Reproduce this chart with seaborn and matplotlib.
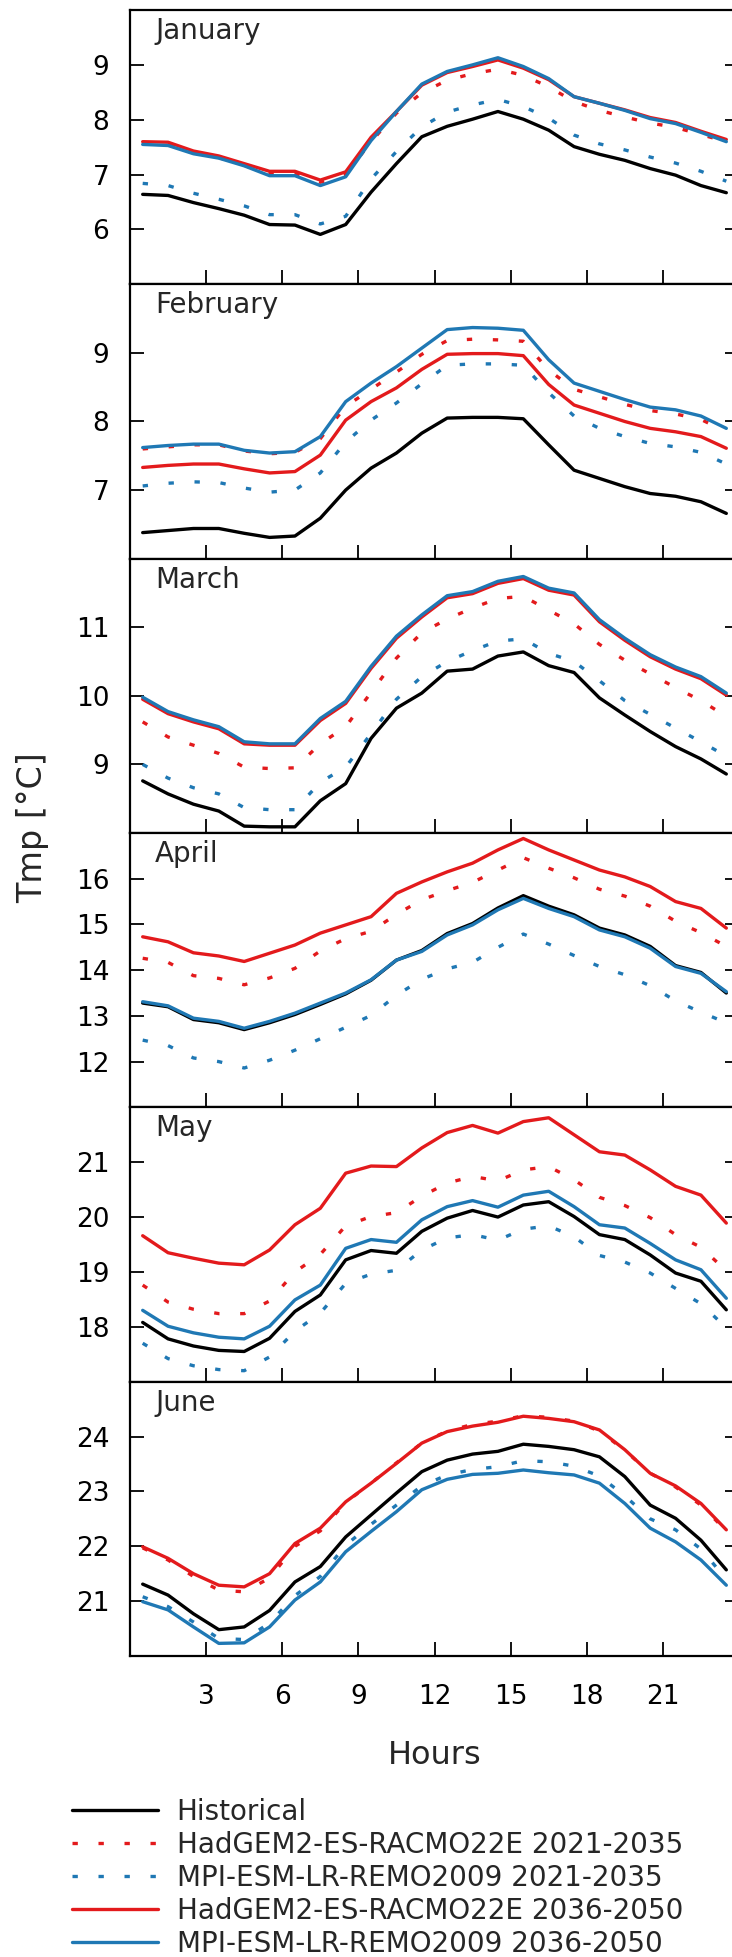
import matplotlib
matplotlib.use("Agg")
import matplotlib.pyplot as plt
import seaborn as sns
import pandas as pd
from matplotlib.lines import Line2D

hours = [0.5, 1.5, 2.5, 3.5, 4.5, 5.5, 6.5, 7.5, 8.5, 9.5, 10.5, 11.5,
         12.5, 13.5, 14.5, 15.5, 16.5, 17.5, 18.5, 19.5, 20.5, 21.5, 22.5, 23.5]
months = ["January", "February", "March", "April", "May", "June"]
xticks = [3, 6, 9, 12, 15, 18, 21]

series_labels = ["Historical", "HadGEM2-ES-RACMO22E 2021-2035", "MPI-ESM-LR-REMO2009 2021-2035",
                 "HadGEM2-ES-RACMO22E 2036-2050", "MPI-ESM-LR-REMO2009 2036-2050"]

jan_hist = [6.64, 6.62, 6.49, 6.38, 6.26, 6.09, 6.08, 5.91, 6.09, 6.68, 7.20, 7.69, 7.88, 8.01, 8.15, 8.01, 7.81, 7.51, 7.37, 7.26, 7.11, 6.99, 6.80, 6.67]
jan_had21 = [7.57, 7.55, 7.40, 7.31, 7.17, 7.02, 7.02, 6.86, 7.00, 7.60, 8.12, 8.49, 8.72, 8.84, 8.92, 8.81, 8.60, 8.33, 8.17, 8.05, 7.94, 7.86, 7.73, 7.60]
jan_mpi21 = [6.84, 6.80, 6.66, 6.55, 6.43, 6.27, 6.27, 6.10, 6.24, 6.92, 7.42, 7.87, 8.14, 8.27, 8.37, 8.24, 8.03, 7.72, 7.56, 7.45, 7.32, 7.21, 7.06, 6.88]
jan_had36 = [7.60, 7.59, 7.43, 7.34, 7.20, 7.06, 7.06, 6.90, 7.05, 7.68, 8.15, 8.63, 8.86, 8.97, 9.09, 8.94, 8.73, 8.42, 8.30, 8.18, 8.04, 7.95, 7.79, 7.64]
jan_mpi36 = [7.55, 7.53, 7.38, 7.30, 7.16, 6.98, 6.98, 6.80, 6.96, 7.62, 8.15, 8.65, 8.88, 9.00, 9.13, 8.97, 8.75, 8.42, 8.30, 8.17, 8.02, 7.93, 7.77, 7.60]

feb_hist = [6.38, 6.41, 6.44, 6.44, 6.37, 6.31, 6.33, 6.59, 7.00, 7.32, 7.54, 7.83, 8.05, 8.06, 8.06, 8.04, 7.66, 7.29, 7.17, 7.05, 6.95, 6.91, 6.83, 6.66]
feb_had21 = [7.60, 7.63, 7.66, 7.66, 7.57, 7.53, 7.55, 7.75, 8.22, 8.47, 8.72, 8.98, 9.18, 9.20, 9.19, 9.17, 8.75, 8.47, 8.36, 8.25, 8.16, 8.11, 8.03, 7.85]
feb_mpi21 = [7.06, 7.10, 7.12, 7.11, 7.03, 6.97, 7.00, 7.25, 7.70, 8.02, 8.27, 8.55, 8.82, 8.84, 8.84, 8.82, 8.42, 8.08, 7.90, 7.78, 7.68, 7.63, 7.55, 7.38]
feb_had36 = [7.33, 7.36, 7.38, 7.38, 7.31, 7.25, 7.27, 7.51, 8.02, 8.29, 8.49, 8.76, 8.98, 8.99, 8.99, 8.96, 8.54, 8.24, 8.12, 8.00, 7.90, 7.85, 7.78, 7.61]
feb_mpi36 = [7.62, 7.65, 7.67, 7.67, 7.58, 7.54, 7.56, 7.78, 8.29, 8.56, 8.80, 9.07, 9.34, 9.37, 9.36, 9.33, 8.90, 8.56, 8.44, 8.32, 8.21, 8.17, 8.08, 7.90]

mar_hist = [8.76, 8.57, 8.42, 8.32, 8.10, 8.09, 8.09, 8.47, 8.72, 9.38, 9.82, 10.04, 10.36, 10.39, 10.58, 10.64, 10.44, 10.34, 9.97, 9.72, 9.48, 9.26, 9.08, 8.86]
mar_had21 = [9.62, 9.40, 9.28, 9.16, 8.96, 8.94, 8.95, 9.30, 9.55, 10.05, 10.55, 10.92, 11.12, 11.28, 11.42, 11.45, 11.25, 11.05, 10.75, 10.52, 10.32, 10.12, 9.93, 9.70]
mar_mpi21 = [9.00, 8.80, 8.66, 8.57, 8.37, 8.34, 8.34, 8.74, 8.96, 9.45, 9.95, 10.28, 10.50, 10.66, 10.80, 10.83, 10.62, 10.50, 10.22, 9.93, 9.73, 9.53, 9.33, 9.12]
mar_had36 = [9.95, 9.74, 9.62, 9.52, 9.30, 9.28, 9.28, 9.64, 9.89, 10.40, 10.84, 11.15, 11.43, 11.49, 11.64, 11.71, 11.54, 11.47, 11.08, 10.81, 10.57, 10.39, 10.25, 10.01]
mar_mpi36 = [9.98, 9.77, 9.65, 9.55, 9.33, 9.30, 9.30, 9.67, 9.92, 10.43, 10.87, 11.18, 11.46, 11.52, 11.67, 11.74, 11.57, 11.50, 11.11, 10.84, 10.60, 10.42, 10.28, 10.04]

apr_hist = [13.28, 13.20, 12.92, 12.85, 12.70, 12.85, 13.03, 13.25, 13.48, 13.78, 14.22, 14.43, 14.80, 15.02, 15.36, 15.63, 15.40, 15.21, 14.92, 14.77, 14.52, 14.10, 13.95, 13.50]
apr_had21 = [14.26, 14.17, 13.88, 13.82, 13.68, 13.83, 14.04, 14.42, 14.69, 14.85, 15.22, 15.54, 15.74, 15.92, 16.19, 16.46, 16.23, 16.02, 15.77, 15.62, 15.40, 15.07, 14.82, 14.52]
apr_mpi21 = [12.47, 12.35, 12.08, 12.00, 11.86, 12.03, 12.25, 12.50, 12.75, 13.01, 13.45, 13.80, 14.03, 14.17, 14.50, 14.79, 14.57, 14.32, 14.08, 13.90, 13.66, 13.33, 13.08, 12.85]
apr_had36 = [14.73, 14.62, 14.38, 14.31, 14.19, 14.37, 14.55, 14.81, 14.99, 15.17, 15.68, 15.93, 16.15, 16.34, 16.63, 16.88, 16.63, 16.41, 16.19, 16.04, 15.83, 15.50, 15.35, 14.92]
apr_mpi36 = [13.31, 13.22, 12.95, 12.88, 12.73, 12.88, 13.06, 13.28, 13.50, 13.79, 14.22, 14.41, 14.77, 14.99, 15.32, 15.57, 15.35, 15.17, 14.88, 14.73, 14.48, 14.08, 13.93, 13.53]

may_hist = [18.08, 17.78, 17.65, 17.57, 17.55, 17.79, 18.28, 18.58, 19.22, 19.39, 19.34, 19.74, 19.98, 20.12, 20.00, 20.22, 20.28, 20.01, 19.68, 19.59, 19.31, 18.98, 18.83, 18.31]
may_had21 = [18.76, 18.45, 18.32, 18.24, 18.24, 18.47, 19.00, 19.32, 19.84, 20.01, 20.08, 20.38, 20.62, 20.74, 20.66, 20.86, 20.92, 20.68, 20.36, 20.21, 19.99, 19.68, 19.45, 19.02]
may_mpi21 = [17.70, 17.42, 17.29, 17.22, 17.20, 17.45, 17.92, 18.25, 18.79, 18.96, 19.03, 19.40, 19.62, 19.68, 19.58, 19.78, 19.84, 19.64, 19.30, 19.18, 18.98, 18.70, 18.42, 17.98]
may_had36 = [19.66, 19.35, 19.25, 19.16, 19.13, 19.40, 19.86, 20.16, 20.80, 20.93, 20.92, 21.26, 21.54, 21.67, 21.53, 21.74, 21.81, 21.50, 21.19, 21.13, 20.86, 20.56, 20.40, 19.89]
may_mpi36 = [18.30, 18.01, 17.89, 17.81, 17.78, 18.01, 18.49, 18.76, 19.43, 19.59, 19.54, 19.95, 20.19, 20.30, 20.18, 20.40, 20.47, 20.19, 19.86, 19.80, 19.52, 19.22, 19.04, 18.52]

jun_hist = [21.31, 21.11, 20.77, 20.48, 20.53, 20.83, 21.35, 21.63, 22.17, 22.57, 22.97, 23.36, 23.57, 23.68, 23.73, 23.86, 23.82, 23.76, 23.63, 23.27, 22.75, 22.51, 22.11, 21.57]
jun_had21 = [21.97, 21.75, 21.45, 21.20, 21.17, 21.42, 22.00, 22.28, 22.80, 23.15, 23.52, 23.88, 24.10, 24.22, 24.28, 24.38, 24.35, 24.28, 24.10, 23.75, 23.33, 23.08, 22.75, 22.28]
jun_mpi21 = [21.08, 20.90, 20.62, 20.32, 20.30, 20.60, 21.10, 21.45, 22.02, 22.40, 22.75, 23.10, 23.30, 23.40, 23.45, 23.56, 23.54, 23.46, 23.28, 22.92, 22.50, 22.30, 21.95, 21.40]
jun_had36 = [21.99, 21.78, 21.50, 21.29, 21.26, 21.50, 22.05, 22.33, 22.81, 23.15, 23.51, 23.88, 24.09, 24.19, 24.26, 24.37, 24.33, 24.27, 24.12, 23.76, 23.33, 23.10, 22.78, 22.30]
jun_mpi36 = [20.99, 20.84, 20.53, 20.23, 20.24, 20.53, 21.02, 21.35, 21.90, 22.27, 22.63, 23.03, 23.22, 23.31, 23.33, 23.39, 23.34, 23.30, 23.15, 22.78, 22.33, 22.08, 21.75, 21.29]

month_data = [
    [jan_hist, jan_had21, jan_mpi21, jan_had36, jan_mpi36],
    [feb_hist, feb_had21, feb_mpi21, feb_had36, feb_mpi36],
    [mar_hist, mar_had21, mar_mpi21, mar_had36, mar_mpi36],
    [apr_hist, apr_had21, apr_mpi21, apr_had36, apr_mpi36],
    [may_hist, may_had21, may_mpi21, may_had36, may_mpi36],
    [jun_hist, jun_had21, jun_mpi21, jun_had36, jun_mpi36],
]
ylims = [(5, 10), (6, 10), (8, 12), (11, 17), (17, 22), (20, 25)]
yticks = [[6, 7, 8, 9], [7, 8, 9], [9, 10, 11], [12, 13, 14, 15, 16], [18, 19, 20, 21], [21, 22, 23, 24]]

RED = "#e31a1c"
BLUE = "#1f78b4"
DOT = (0, (1.6, 6.2))
styles = [
    dict(color="black", linestyle="-"),
    dict(color=RED, linestyle=DOT),
    dict(color=BLUE, linestyle=DOT),
    dict(color=RED, linestyle="-"),
    dict(color=BLUE, linestyle="-"),
]

sns.set_style("ticks")
plt.rcParams["font.family"] = ["DejaVu Sans"]

W, H = 732, 1957
fig = plt.figure(figsize=(W / 100, H / 100), dpi=100)
left_px, right_px = 130, 739
top_px, bottom_px = 10, 1656
ph = (bottom_px - top_px) / 6.0

for i, month in enumerate(months):
    y0 = top_px + ph * (i + 1)
    ax = fig.add_axes([left_px / W, 1 - y0 / H, (right_px - left_px) / W, ph / H])
    df = pd.DataFrame({"hour": hours})
    for j, vals in enumerate(month_data[i]):
        df["v"] = vals
        sns.lineplot(data=df, x="hour", y="v", ax=ax, linewidth=2.4,
                     legend=False, solid_joinstyle="round", **styles[j])
    ax.set_xlim(0, 24)
    ax.set_ylim(*ylims[i])
    ax.set_xticks(xticks)
    ax.set_yticks(yticks[i])
    ax.set_xlabel("")
    ax.set_ylabel("")
    for s in ax.spines.values():
        s.set_linewidth(1.6)
        s.set_color("black")
    ax.tick_params(axis="both", direction="in", length=10, width=1.3,
                   labelsize=19, colors="black")
    ax.tick_params(axis="y", right=True, pad=15)
    ax.tick_params(axis="x", top=False, pad=20)
    if i < 5:
        ax.tick_params(axis="x", labelbottom=False)
    ax.text(0.041, 0.975, month, transform=ax.transAxes, ha="left", va="top",
            fontsize=20)

fig.text(32.5 / W, 1 - 828 / H, "Tmp [°C]", rotation=90, ha="center", va="center", fontsize=24)
fig.text(434.5 / W, 1 - 1756 / H, "Hours", ha="center", va="center", fontsize=23)

handles = [Line2D([], [], linewidth=2.4, **st) for st in styles]
fig.legend(handles, series_labels, loc="upper left", bbox_to_anchor=(71.7 / W, 1 - 1798 / H),
           frameon=False, fontsize=20, handlelength=3.1, handletextpad=0.68,
           labelspacing=0.18, borderpad=0, borderaxespad=0)

fig.savefig("out.png", dpi=100)
